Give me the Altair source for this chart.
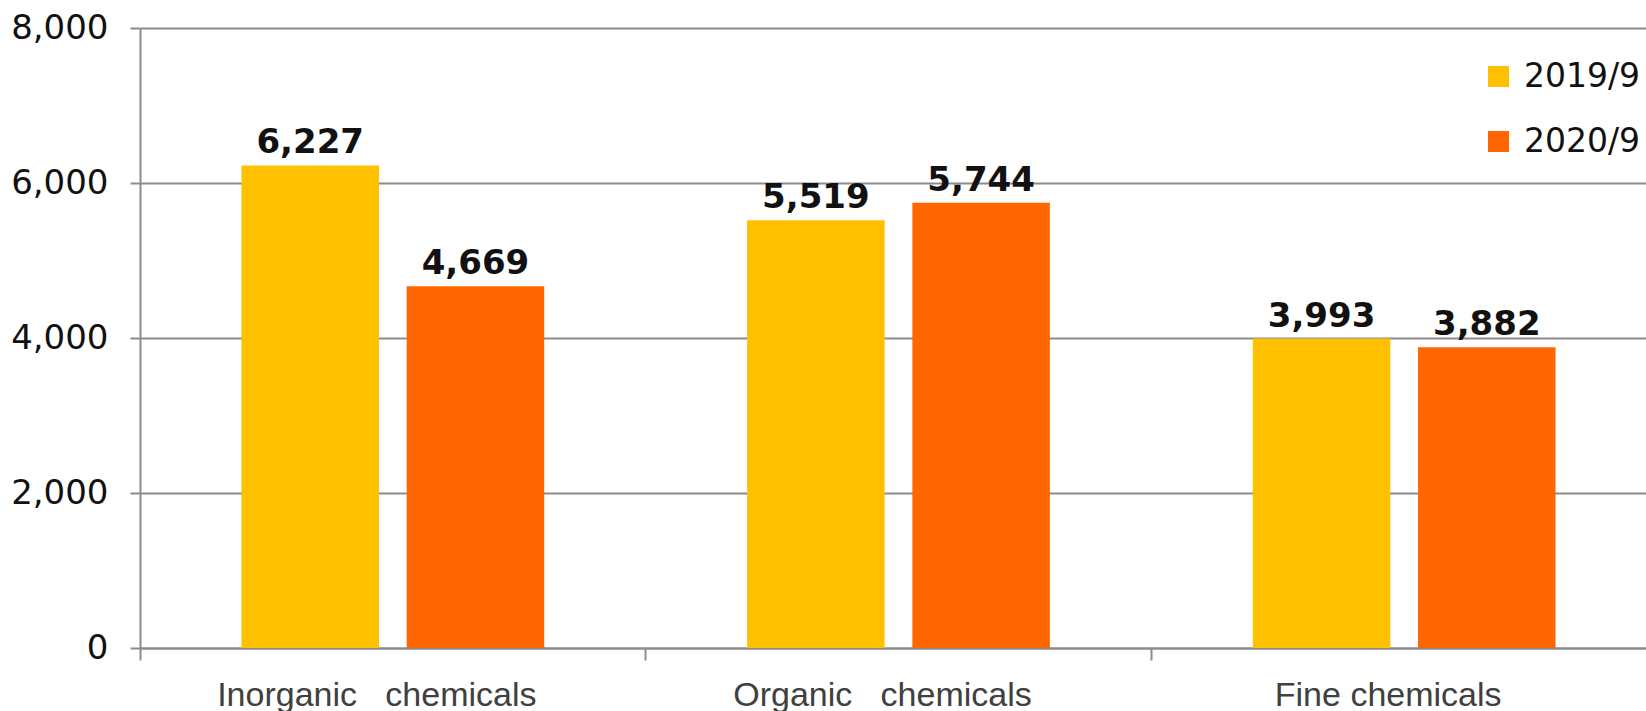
import altair as alt
import pandas as pd

# Chemical sales by segment, two periods
categories = ["Inorganic\u00a0\u00a0\u00a0chemicals", "Organic\u00a0\u00a0\u00a0chemicals", "Fine chemicals"]
periods = ["2019/9", "2020/9"]
sales_2019 = [6227, 5519, 3993]
sales_2020 = [4669, 5744, 3882]
colors = ["#FFC000", "#FF6600"]
y_ticks = [0, 2000, 4000, 6000, 8000]

rows = []
for cat, a, b in zip(categories, sales_2019, sales_2020):
    rows.append({"segment": cat, "period": periods[0], "sales": a})
    rows.append({"segment": cat, "period": periods[1], "sales": b})
df = pd.DataFrame(rows)

grey = "#8c8c8c"

x_enc = alt.X(
    "segment:N",
    sort=categories,
    scale=alt.Scale(paddingInner=0, paddingOuter=0),
    axis=alt.Axis(
        title=None,
        labelAngle=0,
        bandPosition=0,
        domainColor=grey,
        domainWidth=2,
        tickColor=grey,
        tickWidth=2,
        tickSize=12,
        labelFont="Liberation Sans",
        labelFontSize=34,
        labelColor="#404040",
        labelPadding=18,
        labelLimit=0,
        labelOffset=-16,
        grid=False,
    ),
)
xoff_enc = alt.XOffset(
    "period:N",
    sort=periods,
    scale=alt.Scale(paddingInner=0.168, paddingOuter=0.614),
)
y_enc = alt.Y(
    "sales:Q",
    scale=alt.Scale(domain=[0, 8000], nice=False),
    axis=alt.Axis(
        title=None,
        values=y_ticks,
        format=",d",
        grid=True,
        gridColor=grey,
        gridWidth=2,
        domainColor=grey,
        domainWidth=2,
        tickColor=grey,
        tickWidth=2,
        tickSize=10,
        labelFont="DejaVu Sans",
        labelFontSize=34,
        labelColor="#111111",
        labelPadding=22,
    ),
)

bars = alt.Chart(df).mark_bar().encode(
    x=x_enc,
    xOffset=xoff_enc,
    y=y_enc,
    color=alt.Color(
        "period:N",
        sort=periods,
        scale=alt.Scale(domain=periods, range=colors),
        legend=alt.Legend(
            title=None,
            orient="none",
            legendX=1342,
            legendY=32,
            symbolType="square",
            symbolSize=441,
            symbolStrokeWidth=0,
            labelFont="DejaVu Sans",
            labelFontSize=33,
            labelColor="#111111",
            labelOffset=9,
            rowPadding=31,
            padding=0,
        ),
    ),
)

labels = alt.Chart(df).mark_text(
    font="DejaVu Sans",
    fontWeight="bold",
    fontSize=34,
    baseline="alphabetic",
    dy=-12,
    color="#111111",
).encode(
    x=alt.X("segment:N", sort=categories),
    xOffset=alt.XOffset("period:N", sort=periods),
    y="sales:Q",
    text=alt.Text("sales:Q", format=",d"),
)

chart = (
    alt.layer(bars, labels)
    .properties(
        width=1517,
        height=620,
        padding={"left": 140, "top": 28, "right": -11, "bottom": 63},
        autosize=alt.AutoSizeParams(type="none"),
    )
    .configure_view(stroke=None)
)

chart.save("out.html", embed_options={"renderer": "svg", "actions": False})
